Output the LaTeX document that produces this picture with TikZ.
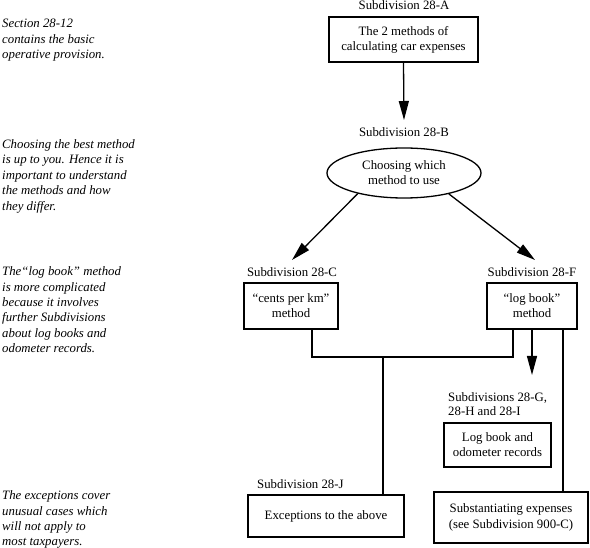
\documentclass[tikz,border=0pt]{standalone}
\usepackage{fontspec}
\setmainfont{Liberation Serif}
\usetikzlibrary{shapes.geometric,arrows.meta,calc}
\begin{document}
\begin{tikzpicture}[x=1pt,y=-1pt,
  every node/.style={font=\fontsize{12.8}{15}\selectfont},
  box/.style={draw,line width=1.3pt,inner sep=0pt,align=center},
  lab/.style={inner sep=0pt,anchor=base},
  note/.style={inner sep=0pt,anchor=base west,align=left,font=\fontsize{12.8}{15.5}\selectfont\itshape},
  conn/.style={line width=1.3pt},
  arr/.style={line width=1.3pt,-{Triangle[length=19pt,width=10pt]}}]
\useasboundingbox (0,0) rectangle (590,548);
% notes (anchored at the baseline of their last line)
\node[note] (n1) at (2,59) {Section 28-12\\contains the basic\\operative provision.};
\node[note] (n2) at (2,210.5) {Choosing the best method\\is up to you. Hence it is\\important to understand\\the methods and how\\they differ.};
\node[note] (n3) at (2,353) {The“log book” method\\is more complicated\\because it involves\\further Subdivisions\\about log books and\\odometer records.};
\node[note] (n4) at (2,546) {The exceptions cover\\unusual cases which\\will not apply to\\most taxpayers.};
% labels
\node[lab] (lA) at (404,9.5) {Subdivision 28-A};
\node[lab] (lB) at (404,137) {Subdivision 28-B};
\node[lab] (lC) at (292,277) {Subdivision 28-C};
\node[lab] (lF) at (532,277) {Subdivision 28-F};
\node[inner sep=0pt,anchor=base west,align=left,font=\fontsize{12.8}{14.5}\selectfont] (lG) at (448,416) {Subdivisions 28-G,\\28-H and 28-I};
\node[inner sep=0pt,anchor=base west] (lJ) at (257,489) {Subdivision 28-J};
% boxes
\node[box,minimum width=149pt,minimum height=45pt] (A) at (403.5,39.5) {The 2 methods of\\calculating car expenses};
\node[draw,ellipse,line width=1.3pt,inner sep=0pt,minimum width=154pt,minimum height=50pt,align=center] (B) at (404,173) {Choosing which\\method to use};
\node[box,minimum width=94pt,minimum height=46pt] (C) at (291,306) {“cents per km”\\method};
\node[box,minimum width=90pt,minimum height=46pt] (F) at (532,306) {“log book”\\method};
\node[box,minimum width=107pt,minimum height=44pt] (G) at (497.5,445) {Log book and\\odometer records};
\node[box,minimum width=154pt,minimum height=51pt,font=\fontsize{12.8}{16.5}\selectfont] (S) at (511,517.5) {Substantiating expenses\\(see Subdivision 900-C)};
\node[box,minimum width=156pt,minimum height=42pt] (J) at (326,516) {Exceptions to the above};
% coordinates
\coordinate (tB) at (404,120);
\coordinate (tC) at (292,260);
\coordinate (tF) at (535,260);
\coordinate (tG) at (532,375);
\coordinate (cC) at (312,329);
\coordinate (cF) at (513,329);
\coordinate (sF) at (563,329);
\coordinate (jJ) at (383,495);
\coordinate (hj) at (383,357);
% connectors
\draw[arr] (A.south) -- (tB);
\draw[arr] (B.204) -- (tC);
\draw[arr] (B.335) -- (tF);
\draw[conn] (cC) |- (hj) -| (cF);
\draw[conn] (hj) -- (jJ);
\draw[arr] (F.south) -- (tG);
\draw[conn] (sF) -- (sF |- S.north);
\end{tikzpicture}
\end{document}
